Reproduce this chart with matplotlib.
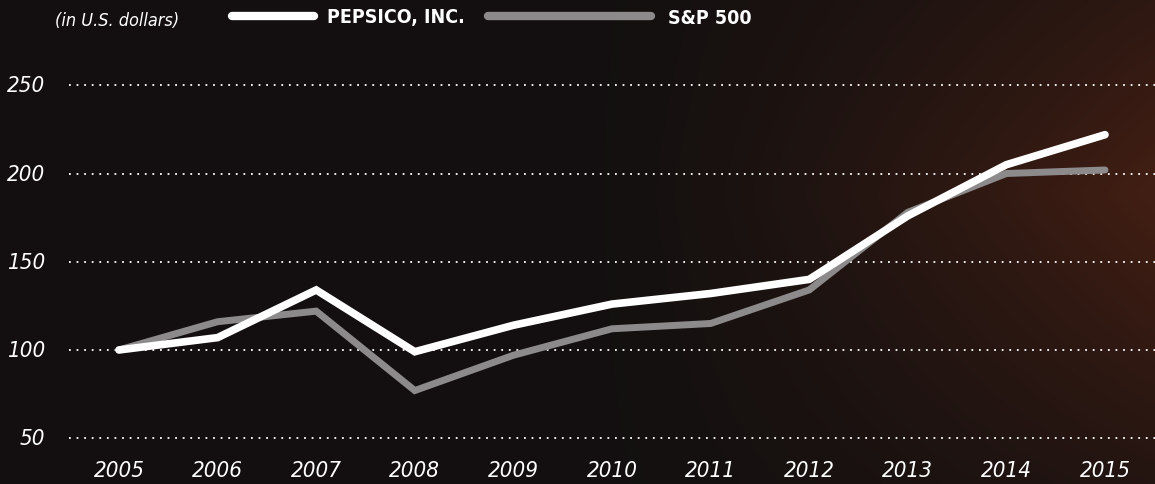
import numpy as np
import matplotlib.pyplot as plt

# data
years = [2005, 2006, 2007, 2008, 2009, 2010, 2011, 2012, 2013, 2014, 2015]
pepsico = [100, 107, 134, 99, 114, 126, 132, 140, 176, 205, 222]
sp500 = [100, 116, 122, 77, 97, 112, 115, 134, 178, 200, 202]
yticks = [50, 100, 150, 200, 250]

FONT = ["DejaVu Sans"]
STRETCH = "condensed"

fig = plt.figure(figsize=(11.55, 4.85), dpi=100)

# background: dark with warm brown tone towards the right
bg = fig.add_axes([0, 0, 1, 1])
h, w = 97, 231
xx = np.linspace(0, 1, w)[None, :]
yy = np.linspace(0, 1, h)[:, None]
warm = np.clip((xx - 0.5) / 0.5, 0, 1) ** 1.4 * (0.3 + 0.7 * np.clip(1 - np.abs(yy - 0.4) / 0.65, 0, 1))
dark = np.array([0.075, 0.062, 0.064])
brown = np.array([0.26, 0.12, 0.075])
img = dark[None, None, :] * (1 - warm[..., None]) + brown[None, None, :] * warm[..., None]
bg.imshow(img, aspect="auto", extent=[0, 1, 0, 1], interpolation="bicubic")
bg.axis("off")

ax = fig.add_axes([69 / 1155, 25 / 485, 1 - 69 / 1155, 400 / 485])
ax.patch.set_alpha(0)
ax.set_xlim(2004.493, 2015.507)
ax.set_ylim(38.2, 264.9)

for v in yticks:
    ax.axhline(v, color="white", lw=1.3, ls=(0, (1, 3.2)), zorder=1)

ax.plot(years, sp500, color="#8c8a8b", lw=5.0, solid_capstyle="round", solid_joinstyle="miter", zorder=2)
ax.plot(years, pepsico, color="white", lw=5.5, solid_capstyle="round", solid_joinstyle="miter", zorder=3)

for s in ax.spines.values():
    s.set_visible(False)
ax.set_xticks([])
ax.set_yticks([])

# tick labels
for v in yticks:
    ax.annotate(str(v), xy=(0, v), xycoords=ax.get_yaxis_transform(), xytext=(-17, 0),
                textcoords="offset points", ha="right", va="center",
                color="white", fontsize=16, style="italic", family=FONT, fontstretch=STRETCH)
for yr in years:
    ax.annotate(str(yr), xy=(yr, 0), xycoords=ax.get_xaxis_transform(), xytext=(0, -1),
                textcoords="offset points", ha="center", va="top",
                color="white", fontsize=16, style="italic", family=FONT, fontstretch=STRETCH)

# legend row
fig.text(117 / 1155, 1 - 21 / 485, "(in U.S. dollars)", ha="center", va="center",
         color="white", fontsize=13, style="italic", family=FONT, fontstretch=STRETCH)
fig.add_artist(plt.Line2D([232 / 1155, 314 / 1155], [1 - 17 / 485] * 2, color="white", lw=6,
                          solid_capstyle="round"))
fig.text(327 / 1155, 1 - 18 / 485, "PEPSICO, INC.", ha="left", va="center",
         color="white", fontsize=14, weight="bold", family=FONT, fontstretch=STRETCH)
fig.add_artist(plt.Line2D([488 / 1155, 651 / 1155], [1 - 17 / 485] * 2, color="#8c8a8b", lw=6,
                          solid_capstyle="round"))
fig.text(668 / 1155, 1 - 18 / 485, "S&P 500", ha="left", va="center",
         color="white", fontsize=14, weight="bold", family=FONT, fontstretch=STRETCH)

fig.savefig("out.png", dpi=100)
